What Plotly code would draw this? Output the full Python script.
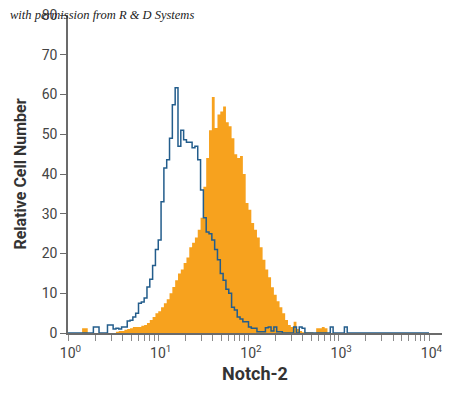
import plotly.graph_objects as go

# Histogram bins: 32 bins per decade, from 10^0 to 10^4 (left edges)
bins_per_decade = 32
n_bins = 128

# Isotype control (blue outline) counts per bin
control_counts = [
    0, 0, 0, 0, 0, 0, 0, 0, 0, 1.5, 1.5, 0, 0, 0, 2, 2,
    1, 1.2, 1, 1.5, 1.5, 3, 3.2, 4, 5, 7.5, 7.8, 8.8, 11.6, 13.5, 17, 21,
    23.4, 33, 41.5, 43.6, 49, 57.4, 61.7, 47, 51, 48.6, 48, 48, 46.6, 47, 43.6, 36,
    29, 25.4, 25, 23.4, 21, 18.4, 15, 13.3, 11, 10, 6.5, 5.8, 4, 3.5, 2.8, 2.8,
    1.5, 1.2, 1.2, 0.3, 0.3, 0.3, 1.3, 1.5, 0.5, 1.5, 0.3, 0.3, 0, 0, 0, 0,
    1.5, 0, 1.5, 1.2, 0, 0, 0, 0, 0, 0, 0, 0, 0, 1.5, 0, 0,
    0, 0, 1.5, 0, 0, 0, 0, 0, 0, 0, 0, 0, 0, 0, 0, 0,
    0, 0, 0, 0, 0, 0, 0, 0, 0, 0, 0, 0, 0, 0, 0, 0,
]

# Notch-2 stained cells (orange filled) counts per bin
notch2_counts = [
    0, 0, 0, 0, 0, 1.2, 1.2, 0, 0, 0, 0, 0, 0, 0, 0, 0,
    0, 0.3, 0.5, 0.5, 0.8, 1, 1.2, 1.5, 1.5, 1.5, 1.8, 2, 2.5, 3.3, 4, 5,
    5.5, 6.5, 7.5, 8.5, 10, 11.6, 13.3, 15, 16, 17.6, 19, 21.6, 22.7, 24, 26, 29,
    36.8, 44, 51, 59.4, 51.6, 55, 55.7, 57, 53, 52, 49, 45, 44, 44.5, 40, 32.7,
    31, 27.7, 26, 24, 21.6, 18.4, 16, 14, 11.5, 9.6, 8, 6.5, 5, 3.3, 2, 1.5,
    2.8, 1, 0.5, 0.2, 0.2, 0.2, 0.2, 0, 1.2, 1.2, 1.5, 1.2, 0, 0, 0, 0,
    0, 0, 0, 0, 0, 0, 0, 0, 0, 0, 0, 0, 0, 0, 0, 0,
    0, 0, 0, 0, 0, 0, 0, 0, 0, 0, 0, 0, 0, 0, 0, 0,
]

decades = [0, 1, 2, 3, 4]
x_tick_labels = ["10<sup>0</sup>", "10<sup>1</sup>", "10<sup>2</sup>", "10<sup>3</sup>", "10<sup>4</sup>"]
y_tick_values = [0, 10, 20, 30, 40, 50, 60, 70, 80]

edges = [10 ** (i / bins_per_decade) for i in range(n_bins + 1)]

# all x ticks: decades labelled, 2..9 multiples unlabelled
x_tickvals, x_ticktext = [], []
for d in decades:
    x_tickvals.append(10 ** d)
    x_ticktext.append("<sup>&nbsp;&nbsp;</sup>" + x_tick_labels[d])
    if d < 4:
        for m in range(2, 10):
            x_tickvals.append(m * 10 ** d)
            x_ticktext.append(" ")

ORANGE = "#F7A21E"
BLUE = "#235D8C"
AXIS = "#6b6b6b"
FONT = "Roboto, Open Sans, sans-serif"

fig = go.Figure()
fig.add_trace(go.Scatter(
    x=edges, y=notch2_counts + [notch2_counts[-1]],
    mode="lines", line=dict(shape="hv", width=0, color=ORANGE),
    fill="tozeroy", fillcolor=ORANGE, hoverinfo="skip", showlegend=False,
))
fig.add_trace(go.Scatter(
    x=edges, y=control_counts + [control_counts[-1]],
    mode="lines", line=dict(shape="hv", width=1.5, color=BLUE),
    hoverinfo="skip", showlegend=False,
))

fig.update_layout(
    width=450, height=397,
    margin=dict(l=68, r=8, t=15, b=64),
    plot_bgcolor="white", paper_bgcolor="white",
    font=dict(family=FONT, color="#444444", size=14),
)
fig.update_xaxes(
    type="log", range=[0, 4.144],
    tickvals=x_tickvals, ticktext=x_ticktext, tickangle=0,
    ticks="outside", ticklen=6, tickcolor="#8a8a8a", tickwidth=1,
    ticklabeloverflow="allow", automargin=False,
    showline=True, linecolor=AXIS, linewidth=1.5,
    showgrid=False, zeroline=False,
    tickfont=dict(size=14, color="#444444"),
    title=dict(text="<b>Notch-2</b>", font=dict(size=18, color="#333333", family=FONT), standoff=8),
)
fig.update_yaxes(
    range=[0, 80], tickvals=y_tick_values,
    ticks="outside", ticklen=6, tickcolor=AXIS, tickwidth=1,
    showline=True, linecolor=AXIS, linewidth=1.5,
    showgrid=False, zeroline=False, automargin=False,
    tickfont=dict(size=14, color="#444444"),
    title=dict(text="<b>Relative Cell Number</b>", font=dict(size=16, color="#333333", family=FONT), standoff=11),
)
fig.add_annotation(
    text="with permission from R &amp; D Systems",
    xref="paper", yref="paper", x=-0.16, y=1.0,
    xanchor="left", yanchor="middle", showarrow=False,
    font=dict(family="Liberation Serif, DejaVu Serif, serif", size=12.5, color="#222222", style="italic"),
)

fig.write_html("out.html", config={"displayModeBar": False},
               post_script="document.body.style.margin='0';")
